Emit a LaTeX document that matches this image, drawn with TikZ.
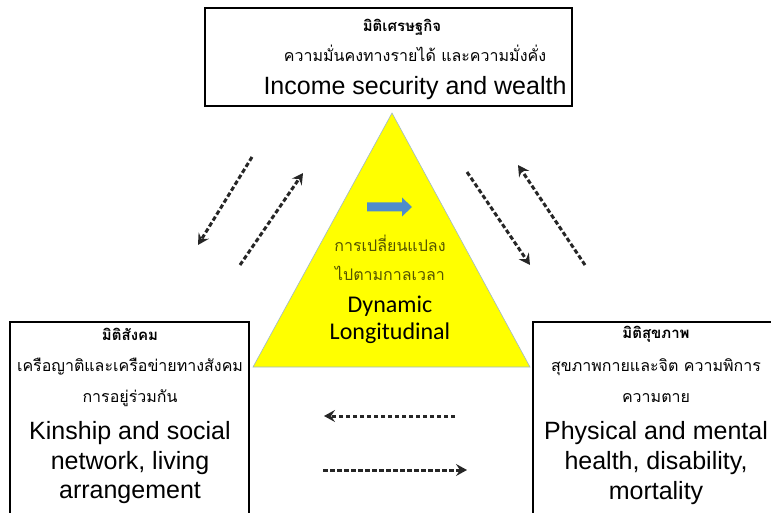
\documentclass[tikz,border=0pt]{standalone}
\usepackage{fontspec}
\setmainfont{Liberation Sans}
\newfontfamily\thaifnt[Script=Thai]{Loma}
\newfontfamily\califnt{Carlito}
\usetikzlibrary{arrows.meta}
\definecolor{tri}{rgb}{1,1,0}
\definecolor{triedge}{rgb}{0.62,0.72,0.80}
\definecolor{olivetxt}{rgb}{0.33,0.33,0.0}
\definecolor{blarrow}{rgb}{0.31,0.55,0.80}
\begin{document}
\begin{tikzpicture}[x=1pt,y=-1pt,
  boxframe/.style={draw=black,line width=1.8pt},
  thaihead/.style={font=\thaifnt\bfseries\fontsize{15}{18}\selectfont,anchor=center},
  thaitxt/.style={font=\thaifnt\fontsize{16}{18}\selectfont,anchor=center},
  engtxt/.style={font=\fontsize{25}{30}\selectfont,anchor=center},
  tritxt/.style={font=\thaifnt\fontsize{16}{18}\selectfont,text=olivetxt,anchor=center},
  trieng/.style={font=\califnt\fontsize{24}{28}\selectfont,anchor=center},
  dasharrow/.style={draw=black!85,line width=3pt,dash pattern=on 4.5pt off 2.5pt,-{Stealth[length=11pt,width=12pt,inset=4pt]}}]
\useasboundingbox (0,0) rectangle (771,513);
% boxes
\node[boxframe,minimum width=367pt,minimum height=98pt,inner sep=0pt] (top) at (388.5,57) {};
\draw[boxframe] (10,540) -- (10,322) -- (249,322) -- (249,540);
\draw[boxframe] (533,540) -- (533,322) -- (800,322);
\coordinate (lbox) at (130,322);
\coordinate (rbox) at (656,322);
% triangle
\coordinate (apex) at (392,113);
\coordinate (bl) at (253,367);
\coordinate (br) at (530,367);
\draw[fill=tri,draw=triedge,line width=0.6pt] (apex) -- (bl) -- (br) -- cycle;
% top texts
\node[thaihead] (t1) at (402,27) {มิติเศรษฐกิจ};
\node[thaitxt] (t2) at (415,53) {ความมั่นคงทางรายได้ และความมั่งคั่ง};
\node[engtxt] (t3) at (415,88) {Income security and wealth};
% left texts
\node[thaihead] (l1) at (130,334) {มิติสังคม};
\node[thaitxt] (l2) at (130,367) {เครือญาติและเครือข่ายทางสังคม};
\node[thaitxt] (l3) at (130,398) {การอยู่ร่วมกัน};
\node[engtxt] (l4) at (130,433) {Kinship and social};
\node[engtxt] (l5) at (130,463) {network, living};
\node[engtxt] (l6) at (130,493) {arrangement};
% right texts
\node[thaihead] (r1) at (656,334) {มิติสุขภาพ};
\node[thaitxt] (r2) at (656,367) {สุขภาพกายและจิต ความพิการ};
\node[thaitxt] (r3) at (656,398) {ความตาย};
\node[engtxt] (r4) at (656,433) {Physical and mental};
\node[engtxt] (r5) at (656,463) {health, disability,};
\node[engtxt] (r6) at (656,493) {mortality};
% blue arrow
\coordinate (blue) at (389.5,207);
\fill[blarrow] (367,202.5) -- (402,202.5) -- (402,197.5) -- (412,207) -- (402,216.5) -- (402,211.5) -- (367,211.5) -- cycle;
% triangle texts
\node[tritxt] (m1) at (390,243) {การเปลี่ยนแปลง};
\node[tritxt] (m2) at (390,273) {ไปตามกาลเวลา};
\node[trieng] (m3) at (390,306) {Dynamic};
\node[trieng] (m4) at (390,333) {Longitudinal};
% arrows
\coordinate (a1s) at (252,157); \coordinate (a1e) at (198,245);
\coordinate (a2s) at (240,265); \coordinate (a2e) at (303,173);
\coordinate (a3s) at (467,172); \coordinate (a3e) at (530,265);
\coordinate (a4s) at (585,265); \coordinate (a4e) at (518,165);
\coordinate (a5s) at (455,416); \coordinate (a5e) at (324,416);
\coordinate (a6s) at (323,470); \coordinate (a6e) at (467,470);
\draw[dasharrow] (a1s) -- (a1e);
\draw[dasharrow] (a2s) -- (a2e);
\draw[dasharrow] (a3s) -- (a3e);
\draw[dasharrow] (a4s) -- (a4e);
\draw[dasharrow] (a5s) -- (a5e);
\draw[dasharrow] (a6s) -- (a6e);
\end{tikzpicture}
\end{document}
